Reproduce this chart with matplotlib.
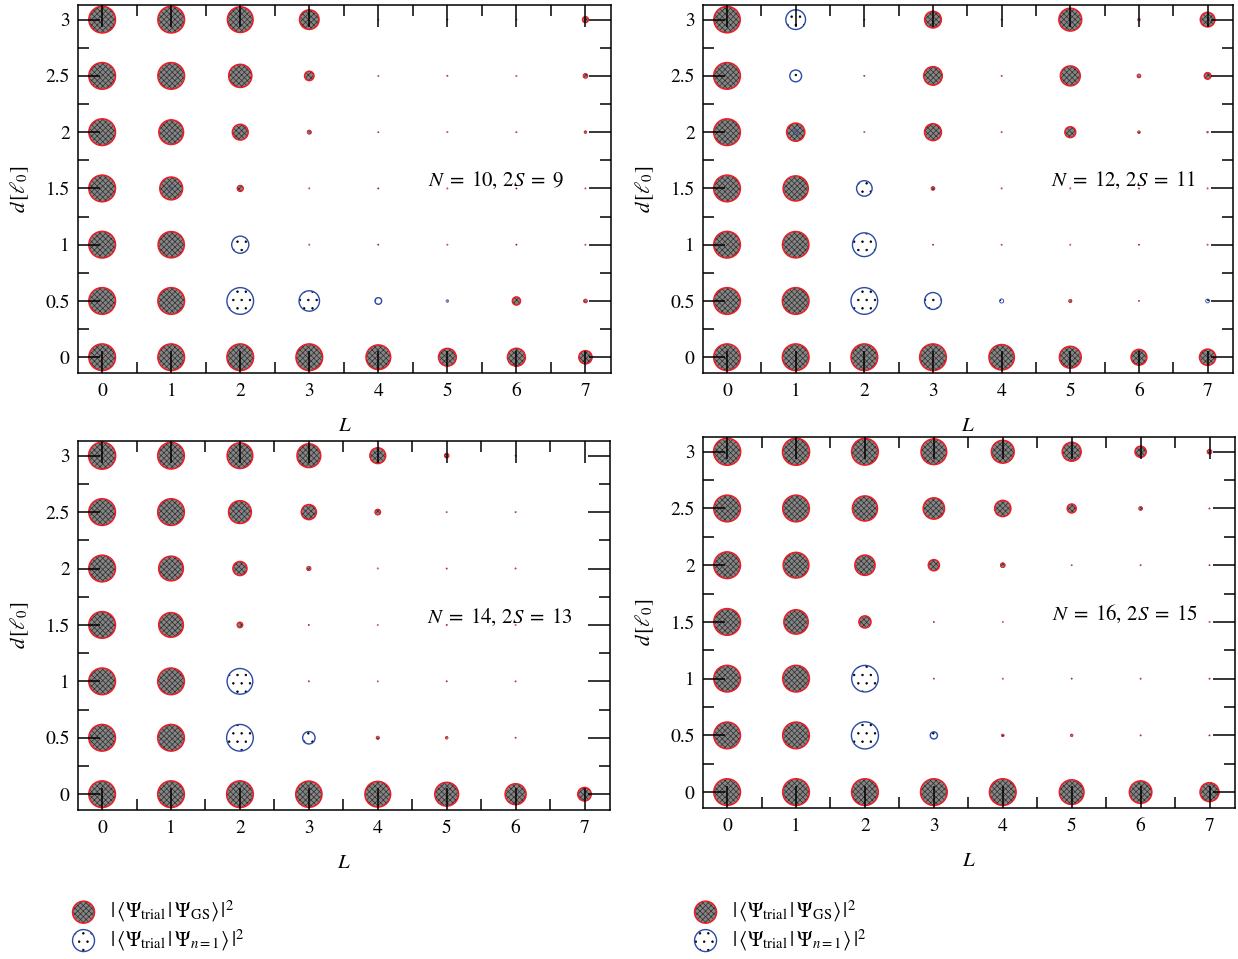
import numpy as np
import matplotlib
matplotlib.use("Agg")
import matplotlib.pyplot as plt
from matplotlib.ticker import MultipleLocator, FixedLocator
from matplotlib.legend_handler import HandlerTuple

plt.rcParams['font.family'] = ['STIXGeneral', 'DejaVu Serif']
plt.rcParams['mathtext.fontset'] = 'stix'
plt.rcParams['hatch.linewidth'] = 0.5

# ---------------- data ----------------
L_values = [0, 1, 2, 3, 4, 5, 6, 7]
d_values = [0, 0.5, 1, 1.5, 2, 2.5, 3]
x_ticks = [0, 1, 2, 3, 4, 5, 6, 7]
y_ticks = [0, 0.5, 1, 1.5, 2, 2.5, 3]
y_ticklabels = ['0', '0.5', '1', '1.5', '2', '2.5', '3']
panel_labels = [r'$N\;=\;10,\,2S\;=\;9$', r'$N\;=\;12,\,2S\;=\;11$',
                r'$N\;=\;14,\,2S\;=\;13$', r'$N\;=\;16,\,2S\;=\;15$']
legend_labels = [r'$|\,\langle\Psi_{\mathrm{trial}}\,|\,\Psi_{\mathrm{GS}}\rangle\,|^2$',
                 r'$|\,\langle\Psi_{\mathrm{trial}}\,|\,\Psi_{n=1}\rangle\,|^2$']

# rows: d = 0, 0.5, ..., 3 ; columns: L = 0..7
gs_N10 = [[0.97, 0.97, 0.97, 0.97, 0.83, 0.43, 0.44, 0.24],
          [0.97, 0.97, 0.00, 0.00, 0.00, 0.003, 0.09, 0.02],
          [0.97, 0.94, 0.00, 0.003, 0.003, 0.003, 0.003, 0.003],
          [0.97, 0.71, 0.05, 0.003, 0.003, 0.003, 0.003, 0.003],
          [0.97, 0.83, 0.34, 0.023, 0.003, 0.003, 0.003, 0.011],
          [0.97, 0.97, 0.73, 0.12, 0.003, 0.003, 0.003, 0.03],
          [0.97, 0.97, 0.90, 0.52, 0.003, 0.003, 0.003, 0.05]]
n1_N10 = [[0, 0, 0, 0, 0, 0, 0, 0],
          [0, 0, 0.97, 0.57, 0.06, 0.01, 0, 0],
          [0, 0, 0.40, 0, 0, 0, 0, 0],
          [0, 0.011, 0, 0, 0, 0, 0, 0],
          [0, 0, 0, 0, 0, 0, 0, 0],
          [0, 0, 0, 0, 0, 0, 0, 0],
          [0, 0, 0, 0, 0, 0, 0, 0]]

gs_N12 = [[0.97, 0.97, 0.97, 0.97, 0.88, 0.65, 0.34, 0.36],
          [0.97, 0.97, 0.00, 0.00, 0.00, 0.015, 0.003, 0.00],
          [0.97, 0.95, 0.00, 0.003, 0.003, 0.003, 0.003, 0.003],
          [0.97, 0.86, 0.00, 0.02, 0.003, 0.003, 0.003, 0.003],
          [0.97, 0.45, 0.003, 0.39, 0.003, 0.16, 0.011, 0.005],
          [0.97, 0.00, 0.003, 0.47, 0.003, 0.54, 0.02, 0.06],
          [0.95, 0.00, 0.003, 0.38, 0.003, 0.71, 0.01, 0.29]]
n1_N12 = [[0, 0, 0, 0, 0, 0, 0, 0],
          [0, 0, 0.97, 0.39, 0.023, 0, 0, 0.02],
          [0, 0, 0.77, 0, 0, 0, 0, 0],
          [0, 0, 0.33, 0, 0, 0, 0, 0],
          [0, 0.025, 0, 0, 0, 0, 0, 0],
          [0, 0.19, 0, 0, 0, 0, 0, 0],
          [0, 0.53, 0, 0, 0, 0, 0, 0]]

gs_N14 = [[0.97, 0.97, 0.97, 0.94, 0.90, 0.77, 0.60, 0.25],
          [0.97, 0.97, 0.00, 0.00, 0.015, 0.011, 0.003, 0.00],
          [0.97, 0.97, 0.00, 0.003, 0.003, 0.003, 0.003, 0.00],
          [0.97, 0.83, 0.044, 0.003, 0.003, 0.003, 0.003, 0.00],
          [0.97, 0.83, 0.27, 0.025, 0.003, 0.003, 0.003, 0.00],
          [0.97, 0.97, 0.71, 0.31, 0.044, 0.003, 0.003, 0.00],
          [1.00, 0.97, 0.90, 0.77, 0.34, 0.03, 0.003, 0.00]]
n1_N14 = [[0, 0, 0, 0, 0, 0, 0, 0],
          [0, 0, 0.97, 0.21, 0, 0, 0, 0],
          [0, 0, 0.90, 0, 0, 0, 0, 0],
          [0, 0, 0, 0, 0, 0, 0, 0],
          [0, 0, 0, 0, 0, 0, 0, 0],
          [0, 0, 0, 0, 0, 0, 0, 0],
          [0, 0, 0, 0, 0, 0, 0, 0]]

gs_N16 = [[0.97, 0.97, 0.97, 0.97, 0.97, 0.83, 0.69, 0.49],
          [0.97, 0.97, 0.00, 0.00, 0.011, 0.011, 0.003, 0.003],
          [0.97, 0.97, 0.00, 0.003, 0.003, 0.003, 0.003, 0.003],
          [0.97, 0.81, 0.20, 0.003, 0.003, 0.00, 0.00, 0.003],
          [0.97, 0.90, 0.56, 0.17, 0.03, 0.003, 0.003, 0.003],
          [0.97, 0.97, 0.86, 0.62, 0.36, 0.11, 0.02, 0.003],
          [1.00, 1.00, 0.97, 0.90, 0.71, 0.49, 0.17, 0.03]]
n1_N16 = [[0, 0, 0, 0, 0, 0, 0, 0],
          [0, 0, 1.00, 0.07, 0, 0, 0, 0],
          [0, 0, 0.96, 0, 0, 0, 0, 0],
          [0, 0, 0, 0, 0, 0, 0, 0],
          [0, 0, 0, 0, 0, 0, 0, 0],
          [0, 0, 0, 0, 0, 0, 0, 0],
          [0, 0, 0, 0, 0, 0, 0, 0]]

gs_panels = [gs_N10, gs_N12, gs_N14, gs_N16]
n1_panels = [n1_N10, n1_N12, n1_N14, n1_N16]

# ---------------- style ----------------
S_MAX = 380.0
GRAY = '#858585'
RED = '#ee1c24'
BLUE = '#2a4aa8'

W, H = 1238, 959
fig = plt.figure(figsize=(W / 100, H / 100), dpi=100)

boxes = [(78, 5, 611, 373), (703, 5, 1233, 373),
         (78, 441, 610, 810), (703, 437, 1235, 808)]

Lg, Dg = np.meshgrid(L_values, d_values)


def edge_widths(s, full):
    return np.clip(np.sqrt(s) * 0.22, 0.25, full)


for i, (x0, y0, x1, y1) in enumerate(boxes):
    ax = fig.add_axes([x0 / W, 1 - y1 / H, (x1 - x0) / W, (y1 - y0) / H])
    gs = np.array(gs_panels[i], dtype=float)
    n1 = np.array(n1_panels[i], dtype=float)

    m = gs > 0
    s = gs[m] * S_MAX
    ax.scatter(Lg[m], Dg[m], s=s, facecolor=GRAY,
               edgecolor='#303030', linewidths=0, hatch='xxxxxx', zorder=1)
    ax.scatter(Lg[m], Dg[m], s=s, facecolor='none',
               edgecolor=RED, linewidths=edge_widths(s, 1.1), zorder=1.1)
    m = n1 > 0
    s = n1[m] * S_MAX
    ax.scatter(Lg[m], Dg[m], s=s, facecolor='none',
               edgecolor='black', linewidths=0, hatch='..', zorder=1.2)
    ax.scatter(Lg[m], Dg[m], s=s, facecolor='none',
               edgecolor=BLUE, linewidths=edge_widths(s, 1.0), zorder=1.3)

    ax.set_xlim(-0.35, 7.37)
    ax.set_ylim(-0.14, 3.13)
    ax.xaxis.set_major_locator(FixedLocator(x_ticks))
    ax.xaxis.set_minor_locator(MultipleLocator(0.5))
    ax.set_yticks(y_ticks)
    ax.set_yticklabels(y_ticklabels)
    ax.yaxis.set_minor_locator(MultipleLocator(0.25))
    ax.tick_params(which='both', direction='in', top=True, right=True,
                   width=1.1, labelsize=14, color='black')
    ax.tick_params(which='major', length=16)
    ax.tick_params(which='minor', length=8)
    ax.tick_params(axis='x', which='major', pad=7)
    ax.tick_params(axis='y', which='major', pad=6)
    for sp in ax.spines.values():
        sp.set_linewidth(1.1)
    ax.set_xlabel(r'$L$', fontsize=15, labelpad=12)
    ax.set_ylabel(r'$d\,[\ell_0]$', fontsize=15, labelpad=10)
    ax.text(4.72, 1.57, panel_labels[i], fontsize=15, ha='left', va='center')

    if i in (2, 3):
        h_gs_fill = ax.scatter([], [], s=250, facecolor=GRAY, edgecolor='#303030',
                               linewidths=0, hatch='xxxxxx')
        h_gs_edge = ax.scatter([], [], s=250, facecolor='none', edgecolor=RED,
                               linewidths=1.1)
        h_n1_fill = ax.scatter([], [], s=250, facecolor='none', edgecolor='black',
                               linewidths=0, hatch='..')
        h_n1_edge = ax.scatter([], [], s=250, facecolor='none', edgecolor=BLUE,
                               linewidths=1.0)
        anchor_x = 70 / W if i == 2 else 692 / W
        fig.legend([(h_gs_fill, h_gs_edge), (h_n1_fill, h_n1_edge)], legend_labels,
                   handler_map={tuple: HandlerTuple(ndivide=1, pad=0)},
                   loc='upper left', bbox_to_anchor=(anchor_x, 1 - 899 / H),
                   frameon=False, fontsize=15, handlelength=1.3,
                   handletextpad=0.6, labelspacing=0.15, borderpad=0,
                   borderaxespad=0, scatterpoints=1)

fig.savefig('out.png', dpi=100)
